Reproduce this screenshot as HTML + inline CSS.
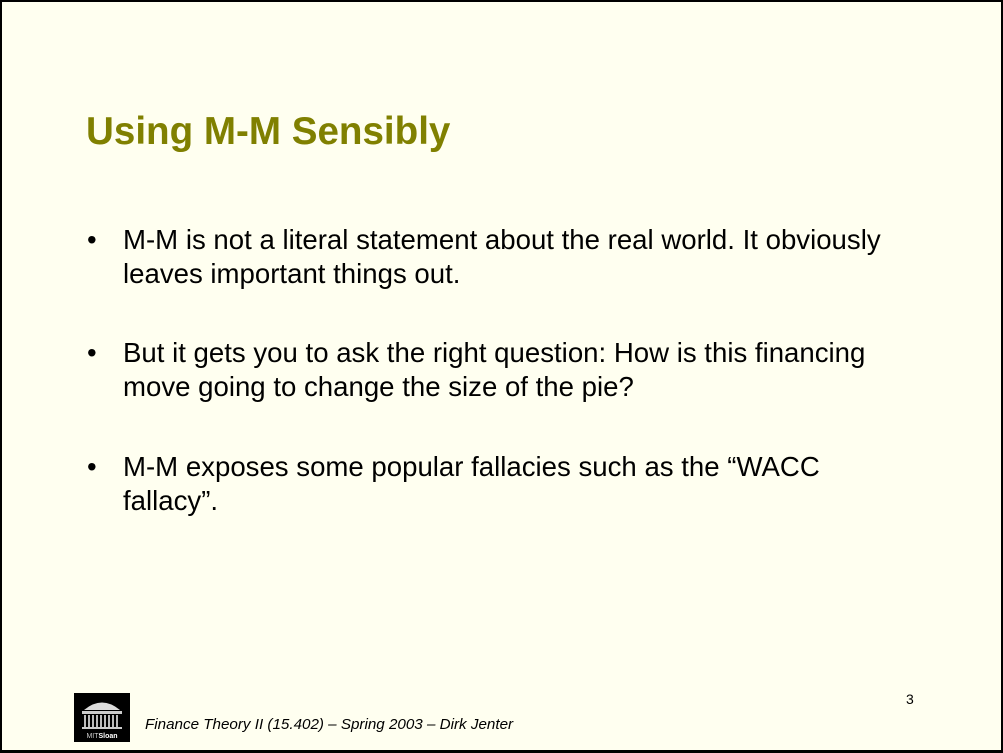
<!DOCTYPE html>
<html><head><meta charset="utf-8"><style>
html,body{margin:0;padding:0;}
body{width:1003px;height:753px;position:relative;background:#fffff0;overflow:hidden;font-family:"Liberation Sans",sans-serif;}
.frame{position:absolute;left:0;top:0;width:999px;height:748px;border:2px solid #000;border-bottom-width:3px;}
.title{position:absolute;left:86px;top:110px;font-size:38.6px;font-weight:bold;color:#808000;white-space:nowrap;}
.b{position:absolute;left:87px;font-size:27.6px;color:#000;line-height:34px;}
.b span.dot{position:absolute;left:0;}
.b .t{position:absolute;left:36px;white-space:nowrap;}
.foot{position:absolute;left:145px;top:716px;font-size:15.2px;font-style:italic;color:#000;white-space:nowrap;}
.pn{position:absolute;left:906px;top:691px;font-size:14px;}
.logo{position:absolute;left:74px;top:693px;width:56px;height:49px;background:#000;}
</style></head><body>
<div class="frame"></div>
<div class="title">Using M-M Sensibly</div>
<div class="b" style="top:223px"><span class="dot">•</span><div class="t">M-M is not a literal statement about the real world. It obviously<br>leaves important things out.</div></div>
<div class="b" style="top:336px"><span class="dot">•</span><div class="t">But it gets you to ask the right question: How is this financing<br>move going to change the size of the pie?</div></div>
<div class="b" style="top:450px"><span class="dot">•</span><div class="t">M-M exposes some popular fallacies such as the “WACC<br>fallacy”.</div></div>
<div class="logo">
<svg width="56" height="49" viewBox="0 0 56 49">
<path d="M10 17 Q28 2 46 17 Z" fill="#ddd"/>
<rect x="8" y="18" width="40" height="3" fill="#ccc"/>
<g fill="#bbb"><rect x="10" y="22" width="2" height="12"/><rect x="14" y="22" width="2" height="12"/><rect x="18" y="22" width="2" height="12"/><rect x="22" y="22" width="2" height="12"/><rect x="26" y="22" width="2" height="12"/><rect x="30" y="22" width="2" height="12"/><rect x="34" y="22" width="2" height="12"/><rect x="38" y="22" width="2" height="12"/><rect x="42" y="22" width="2" height="12"/></g>
<rect x="8" y="34" width="40" height="2" fill="#ccc"/>
<text x="28" y="45" font-size="7" fill="#ccc" text-anchor="middle" font-family="Liberation Sans">MIT<tspan font-weight="bold" fill="#fff">Sloan</tspan></text>
</svg></div>
<div class="foot">Finance Theory II (15.402) – Spring 2003 – Dirk Jenter</div>
<div class="pn">3</div>
</body></html>
